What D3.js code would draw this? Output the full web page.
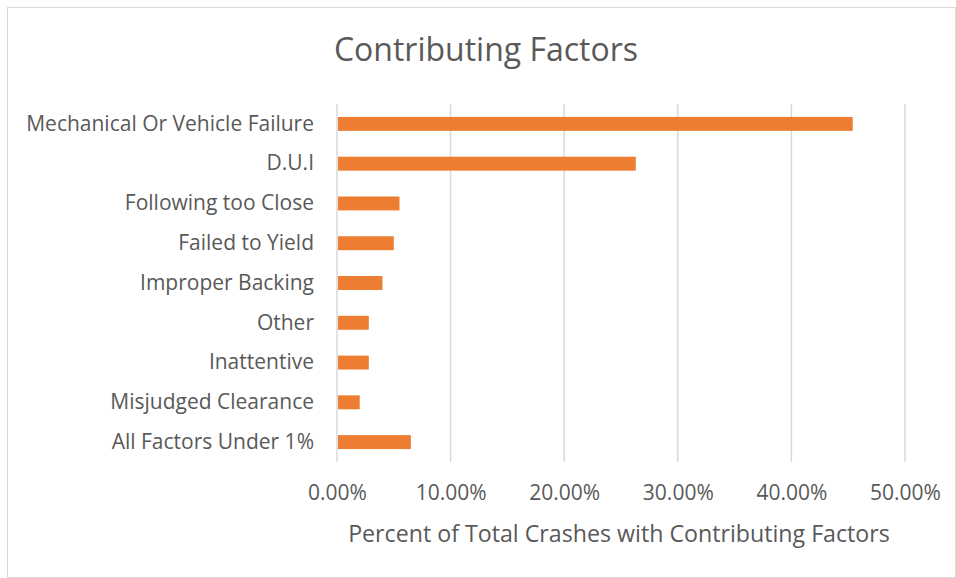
<!DOCTYPE html>
<html>
<head>
<meta charset="utf-8">
<script src="https://cdn.jsdelivr.net/npm/d3@7"></script>
<style>
  html, body { margin: 0; padding: 0; background: #fff; }
  svg { display: block; font-family: "Open Sans", Lato, sans-serif; }
</style>
</head>
<body>
<div id="chart"></div>
<script>
// Horizontal bar chart of crash contributing factors (Excel-style look).

const categories = [
  'Mechanical Or Vehicle Failure',
  'D.U.I',
  'Following too Close',
  'Failed to Yield',
  'Improper Backing',
  'Other',
  'Inattentive',
  'Misjudged Clearance',
  'All Factors Under 1%'
];
const percents = [45.4, 26.3, 5.5, 5.0, 4.0, 2.8, 2.8, 2.0, 6.5];
const xTicks = [0, 10, 20, 30, 40, 50];

const width = 956;
const height = 578;
const margin = { top: 104, right: 51, bottom: 116, left: 337 };
const textColor = '#595959';
const fontFamily = '"Open Sans", Lato, sans-serif';

const svg = d3.select('#chart')
  .append('svg')
  .attr('width', width)
  .attr('height', height);

// Chart frame
svg.append('rect')
  .attr('x', 7.5).attr('y', 7.5)
  .attr('width', width - 8).attr('height', height - 8)
  .attr('fill', '#fff')
  .attr('stroke', '#d9d9d9');

const x = d3.scaleLinear()
  .domain([0, 50])
  .range([margin.left, width - margin.right]);

const y = d3.scaleBand()
  .domain(categories)
  .range([margin.top, height - margin.bottom])
  .paddingInner(0.65)
  .paddingOuter(0.325);

// Gridlines
svg.append('g')
  .selectAll('line')
  .data(xTicks)
  .join('line')
  .attr('x1', d => x(d)).attr('x2', d => x(d))
  .attr('y1', margin.top).attr('y2', height - margin.bottom)
  .attr('stroke', '#d9d9d9')
  .attr('stroke-width', 1.5);

// Bars
svg.append('g')
  .selectAll('rect')
  .data(categories)
  .join('rect')
  .attr('x', x(0) + 1)
  .attr('y', d => y(d))
  .attr('width', (d, i) => x(percents[i]) - x(0) - 1)
  .attr('height', y.bandwidth())
  .attr('fill', '#ED7D31');

// Category labels
const yAxis = d3.axisLeft(y).tickSize(0).tickPadding(23);
svg.append('g')
  .attr('transform', `translate(${margin.left},0)`)
  .call(yAxis)
  .call(g => g.select('.domain').remove())
  .call(g => g.selectAll('text')
    .attr('fill', textColor)
    .attr('font-size', 21)
    .attr('font-family', fontFamily));

// X tick labels
const xAxis = d3.axisBottom(x)
  .tickValues(xTicks)
  .tickSize(0)
  .tickPadding(23)
  .tickFormat(d => d.toFixed(2) + '%');
svg.append('g')
  .attr('transform', `translate(0,${height - margin.bottom})`)
  .call(xAxis)
  .call(g => g.select('.domain').remove())
  .call(g => g.selectAll('text')
    .attr('fill', textColor)
    .attr('font-size', 21)
    .attr('font-family', fontFamily));

// Axis title
svg.append('text')
  .attr('x', 619)
  .attr('y', 542)
  .attr('text-anchor', 'middle')
  .attr('fill', textColor)
  .attr('font-size', 23.2)
  .text('Percent of Total Crashes with Contributing Factors');

// Chart title
svg.append('text')
  .attr('x', 486)
  .attr('y', 61)
  .attr('text-anchor', 'middle')
  .attr('fill', textColor)
  .attr('font-size', 32)
  .text('Contributing Factors');
</script>
</body>
</html>
